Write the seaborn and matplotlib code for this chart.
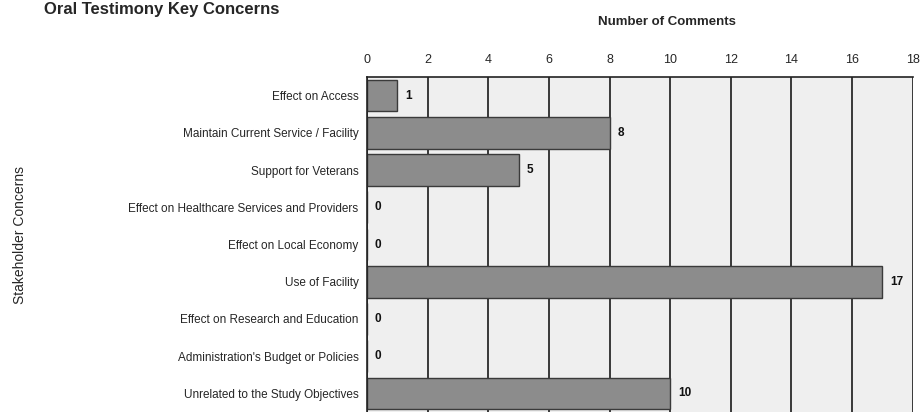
import pandas as pd
import matplotlib.pyplot as plt
import seaborn as sns

# Chart data
concerns = [
    "Effect on Access",
    "Maintain Current Service / Facility",
    "Support for Veterans",
    "Effect on Healthcare Services and Providers",
    "Effect on Local Economy",
    "Use of Facility",
    "Effect on Research and Education",
    "Administration's Budget or Policies",
    "Unrelated to the Study Objectives",
]
comments = [1, 8, 5, 0, 0, 17, 0, 0, 10]
x_ticks = [0, 2, 4, 6, 8, 10, 12, 14, 16, 18]

df = pd.DataFrame({"Concern": concerns, "Comments": comments})

sns.set_style("white")
plt.rcParams["font.family"] = ["Liberation Sans", "DejaVu Sans"]

fig = plt.figure(figsize=(9.22, 4.12), dpi=100)
ax = fig.add_axes([0.398, 0.0, 0.592, 0.813])
ax.set_facecolor("#efefef")

sns.barplot(data=df, x="Comments", y="Concern", orient="h", color="#8c8c8c",
            edgecolor="#3a3a3a", linewidth=1.0, width=0.85, saturation=1, ax=ax)

# value labels
for i, v in enumerate(comments):
    ax.text(v + 0.25, i, str(v), va="center", ha="left", fontsize=8.5,
            fontweight="bold", color="#111111")

ax.set_xlim(0, 18)
ax.set_xticks(x_ticks)
ax.xaxis.tick_top()
ax.xaxis.set_label_position("top")
ax.tick_params(axis="x", length=0, labelsize=9, pad=8)
ax.set_xlabel("Number of Comments", fontsize=9.5, fontweight="bold")
ax.xaxis.set_label_coords(0.55, 1.155)
ax.set_ylabel("")
ax.tick_params(axis="y", length=0, labelsize=8.5, pad=6)

# category boundary ticks on left spine
ax.set_yticks([i + 0.5 for i in range(-1, len(concerns))], minor=True)
ax.tick_params(axis="y", which="minor", length=4, width=1, color="#222222")

ax.xaxis.grid(True, color="#1a1a1a", linewidth=1.2)
ax.set_axisbelow(True)
for s in ["left", "top"]:
    ax.spines[s].set_color("#222222")
    ax.spines[s].set_linewidth(1.2)
for s in ["right", "bottom"]:
    ax.spines[s].set_visible(False)

fig.text(20 / 922, 1 - 235 / 412, "Stakeholder Concerns", fontsize=10,
         rotation=90, ha="center", va="center")
fig.text(0.048, 0.995, "Oral Testimony Key Concerns", fontsize=12,
         fontweight="bold", ha="left", va="top")

fig.savefig("out.png", dpi=100)
